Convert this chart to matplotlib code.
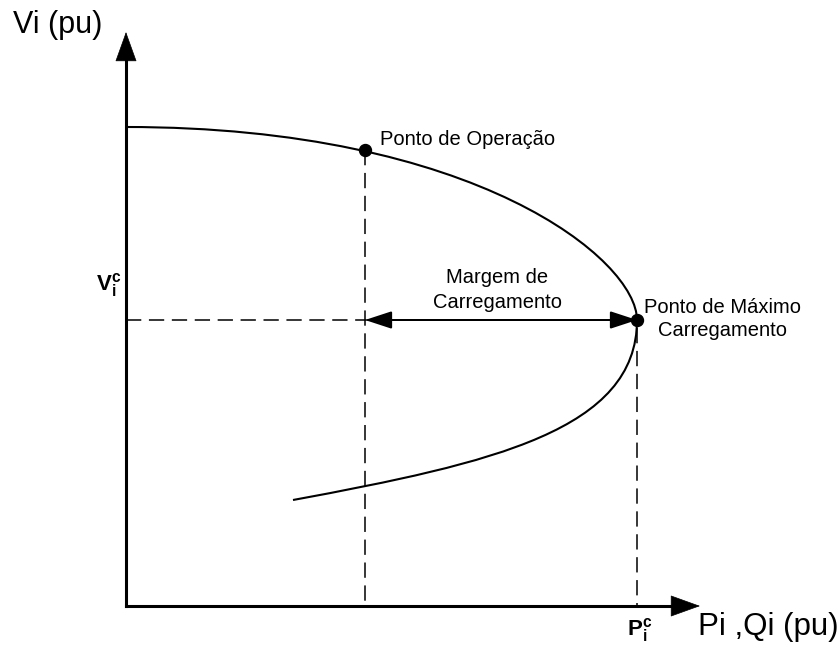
import matplotlib
matplotlib.use("Agg")
import matplotlib.pyplot as plt
from matplotlib.path import Path
from matplotlib.patches import PathPatch

plt.rcParams['font.family'] = ['Liberation Sans', 'DejaVu Sans']
plt.rcParams['mathtext.fontset'] = 'custom'
plt.rcParams['mathtext.rm'] = 'Liberation Sans'
plt.rcParams['mathtext.bf'] = 'Liberation Sans:bold'
plt.rcParams['mathtext.it'] = 'Liberation Sans:italic'

# Schematic PV (nose) curve as two cubic Bezier branches (image units)
# upper branch: start, control 1, control 2, nose
upper_P = [126, 476, 637, 637]
upper_V = [127, 127, 260, 320]
# lower branch: nose, control 1, control 2, end
lower_P = [637, 637, 493, 293]
lower_V = [320, 430, 463, 500]

origin = (126, 606)
x_tip = 700
y_tip = 32

op_point = (365, 150)      # Ponto de Operação
max_point = (637, 320)     # Ponto de Máximo Carregamento

fig = plt.figure(figsize=(8.38, 6.46), dpi=100)
ax = fig.add_axes([0, 0, 1, 1])
ax.set_xlim(0, 838)
ax.set_ylim(646, 0)
ax.axis('off')

# axes with arrows
ax.plot([origin[0], x_tip - 20], [origin[1], origin[1]], color='black', lw=2.2,
        solid_capstyle='projecting')
ax.plot([origin[0], origin[0]], [origin[1], y_tip + 20], color='black', lw=2.2,
        solid_capstyle='projecting')
ax.annotate('', xy=(x_tip, origin[1]), xytext=(origin[0], origin[1]),
            arrowprops=dict(arrowstyle='-|>,head_length=20,head_width=7.2',
                            mutation_scale=1, lw=0.5, color='black',
                            shrinkA=0, shrinkB=0))
ax.annotate('', xy=(origin[0], y_tip), xytext=(origin[0], origin[1]),
            arrowprops=dict(arrowstyle='-|>,head_length=20,head_width=7.2',
                            mutation_scale=1, lw=0.5, color='black',
                            shrinkA=0, shrinkB=0))

# curve
codes = [Path.MOVETO, Path.CURVE4, Path.CURVE4, Path.CURVE4,
         Path.CURVE4, Path.CURVE4, Path.CURVE4]
verts = list(zip(upper_P, upper_V)) + list(zip(lower_P[1:], lower_V[1:]))
ax.add_patch(PathPatch(Path(verts, codes), facecolor='none', edgecolor='black', lw=1.5))

# dashed guides
dash = dict(color='black', lw=1.1, dashes=(10, 5))
ax.plot([op_point[0], op_point[0]], [op_point[1], origin[1]], **dash)
ax.plot([origin[0], max_point[0]], [max_point[1], max_point[1]], **dash)
ax.plot([max_point[0], max_point[0]], [max_point[1] + 8, origin[1]], **dash)

# double arrow (margin)
ax.annotate('', xy=(max_point[0], max_point[1]), xytext=(op_point[0], max_point[1]),
            arrowprops=dict(arrowstyle='<|-|>,head_length=16.5,head_width=5.4',
                            mutation_scale=1, lw=1.44, color='black',
                            shrinkA=0, shrinkB=0))

# points
ax.plot([op_point[0], max_point[0]], [op_point[1], max_point[1]], 'o',
        color='black', markersize=8.6, zorder=5)

fs = 14.5
ax.text(380, 145, 'Ponto de Operação', fontsize=fs, va='baseline', ha='left')
ax.text(497, 283, 'Margem de', fontsize=fs, va='baseline', ha='center')
ax.text(497, 308, 'Carregamento', fontsize=fs, va='baseline', ha='center')
ax.text(722, 313, 'Ponto de Máximo', fontsize=fs, va='baseline', ha='center')
ax.text(722, 336, 'Carregamento', fontsize=fs, va='baseline', ha='center')

ax.text(13, 33, 'Vi (pu)', fontsize=22, va='baseline', ha='left')
ax.text(698, 635, 'Pi ,Qi (pu)', fontsize=22.5, va='baseline', ha='left')

ax.text(96, 290, r'$\mathbf{V}_{\mathbf{i}}^{\mathbf{c}}$', fontsize=16,
        va='baseline', ha='left')
ax.text(627, 635, r'$\mathbf{P}_{\mathbf{i}}^{\mathbf{c}}$', fontsize=16,
        va='baseline', ha='left')

fig.savefig('out.png', dpi=100)
